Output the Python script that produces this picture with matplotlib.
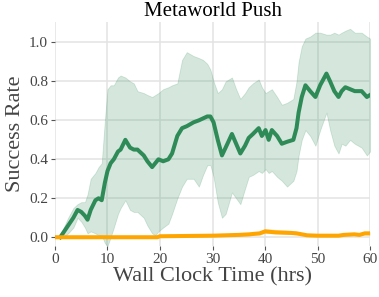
import numpy as np
import matplotlib
matplotlib.use("Agg")
import matplotlib.pyplot as plt

# Green method (mean, lower, upper of band)
green_t = [1.0, 1.5, 2.5, 3.5, 4.3, 5.0, 5.7, 6.2, 6.8, 7.7, 8.3, 8.9, 9.5, 10.0, 10.6, 11.2,
           12.0, 12.5, 13.4, 14.3, 15.0, 15.7, 16.9, 17.6, 18.5, 19.1, 19.7, 20.6, 21.6, 22.3,
           23.3, 24.2, 25.1, 26.4, 27.4, 28.2, 29.0, 29.6, 30.2, 31.0, 31.8, 32.5, 33.7, 34.5,
           35.3, 36.2, 36.9, 37.7, 38.8, 39.4, 40.1, 40.7, 41.3, 42.3, 43.2, 44.2, 45.4, 46.0,
           46.4, 47.0, 47.7, 48.6, 49.6, 50.5, 51.7, 52.4, 53.2, 54.0, 54.6, 55.3, 56.2, 57.1,
           58.4, 59.4, 60.0]
green_mean = [0.0, 0.02, 0.06, 0.10, 0.14, 0.13, 0.11, 0.09, 0.14, 0.19, 0.20, 0.19, 0.28, 0.34,
              0.38, 0.40, 0.44, 0.45, 0.50, 0.46, 0.45, 0.45, 0.42, 0.39, 0.36, 0.38, 0.40, 0.39,
              0.40, 0.43, 0.52, 0.56, 0.57, 0.59, 0.60, 0.61, 0.62, 0.62, 0.59, 0.50, 0.42, 0.46,
              0.53, 0.48, 0.43, 0.47, 0.51, 0.53, 0.56, 0.52, 0.55, 0.50, 0.55, 0.52, 0.48, 0.49,
              0.50, 0.56, 0.64, 0.72, 0.78, 0.75, 0.72, 0.78, 0.84, 0.80, 0.75, 0.72, 0.75, 0.77,
              0.76, 0.75, 0.75, 0.72, 0.73]
green_lo = [0.0, 0.0, 0.02, 0.05, 0.10, 0.08, 0.05, 0.02, 0.03, 0.02, 0.01, 0.01, -0.03, -0.045,
            0.0, 0.05, 0.12, 0.15, 0.19, 0.14, 0.13, 0.13, 0.10, 0.06, 0.02, 0.01, 0.03, 0.05,
            0.07, 0.12, 0.20, 0.26, 0.30, 0.30, 0.26, 0.32, 0.37, 0.37, 0.31, 0.18, 0.10, 0.12,
            0.23, 0.20, 0.17, 0.25, 0.31, 0.32, 0.34, 0.33, 0.35, 0.33, 0.34, 0.31, 0.29, 0.26,
            0.29, 0.34, 0.42, 0.50, 0.55, 0.52, 0.47, 0.55, 0.64, 0.55, 0.47, 0.43, 0.48, 0.47,
            0.50, 0.48, 0.46, 0.42, 0.44]
green_hi = [0.0, 0.04, 0.10, 0.15, 0.17, 0.18, 0.18, 0.22, 0.30, 0.33, 0.36, 0.38, 0.60, 0.76,
            0.78, 0.78, 0.82, 0.83, 0.82, 0.80, 0.79, 0.75, 0.74, 0.73, 0.72, 0.73, 0.74, 0.76,
            0.77, 0.78, 0.79, 0.91, 0.95, 0.93, 0.92, 0.91, 0.89, 0.86, 0.80, 0.74, 0.76, 0.80,
            0.82, 0.76, 0.71, 0.74, 0.77, 0.79, 0.81, 0.77, 0.74, 0.75, 0.76, 0.72, 0.68, 0.69,
            0.71, 0.80, 0.90, 0.98, 1.02, 1.03, 1.05, 1.05, 1.04, 1.04, 1.05, 1.04, 1.05, 1.06,
            1.07, 1.05, 1.05, 1.03, 1.02]

# Orange method
orange_t = [0.0, 19.5, 20.0, 30.0, 35.0, 37.0, 39.0, 40.0, 42.0, 45.0, 46.0, 48.0, 50.0, 54.0,
            55.0, 57.0, 58.0, 59.0, 60.0]
orange_mean = [0.0, 0.0, 0.005, 0.008, 0.012, 0.015, 0.02, 0.03, 0.025, 0.022, 0.02, 0.01, 0.008,
               0.008, 0.012, 0.015, 0.012, 0.02, 0.02]
orange_lo = [0.0, 0.0, 0.002, 0.004, 0.006, 0.008, 0.012, 0.02, 0.018, 0.015, 0.012, 0.006, 0.005,
             0.005, 0.008, 0.01, 0.008, 0.012, 0.012]
orange_hi = [0.0, 0.0, 0.008, 0.012, 0.018, 0.022, 0.03, 0.045, 0.04, 0.035, 0.03, 0.016, 0.012,
             0.012, 0.016, 0.02, 0.018, 0.028, 0.028]

xticks = [0, 10, 20, 30, 40, 50, 60]
yticks = [0.0, 0.2, 0.4, 0.6, 0.8, 1.0]

title = "Metaworld Push"
xlabel = "Wall Clock Time (hrs)"
ylabel = "Success Rate"

plt.rcParams['font.family'] = ['Liberation Serif', 'DejaVu Serif']

fig = plt.figure(figsize=(3.79, 2.97), dpi=100)
ax = fig.add_axes([0.1451, 0.1717, 0.8312, 0.7543])

green = '#2e8b57'
orange = '#ffa500'

ax.fill_between(green_t, green_lo, green_hi, color=green, alpha=0.2, linewidth=0.6)
ax.plot(green_t, green_mean, color=green, linewidth=2.9, zorder=3)
ax.fill_between(orange_t, orange_lo, orange_hi, color=orange, alpha=0.3, linewidth=0)
ax.plot(orange_t, orange_mean, color=orange, linewidth=2.9, zorder=4)

ax.set_xlim(0, 60)
ax.set_ylim(-0.045, 1.105)
ax.set_xticks(xticks)
ax.set_yticks(yticks)
ax.set_yticklabels([f"{v:.1f}" for v in yticks])
ax.grid(True, color='#e3e3e3', linewidth=1.1)
ax.set_axisbelow(True)
for s in ax.spines.values():
    s.set_visible(False)
ax.tick_params(axis='both', length=3, width=0.8, color='#555555', labelcolor='#444444',
               labelsize=11, pad=2)

ax.set_title(title, fontsize=15, color='black', pad=4)
ax.set_xlabel(xlabel, fontsize=16, color='#444444', labelpad=1)
ax.set_ylabel(ylabel, fontsize=16, color='#444444', labelpad=3)

fig.savefig("out.png", dpi=100)
